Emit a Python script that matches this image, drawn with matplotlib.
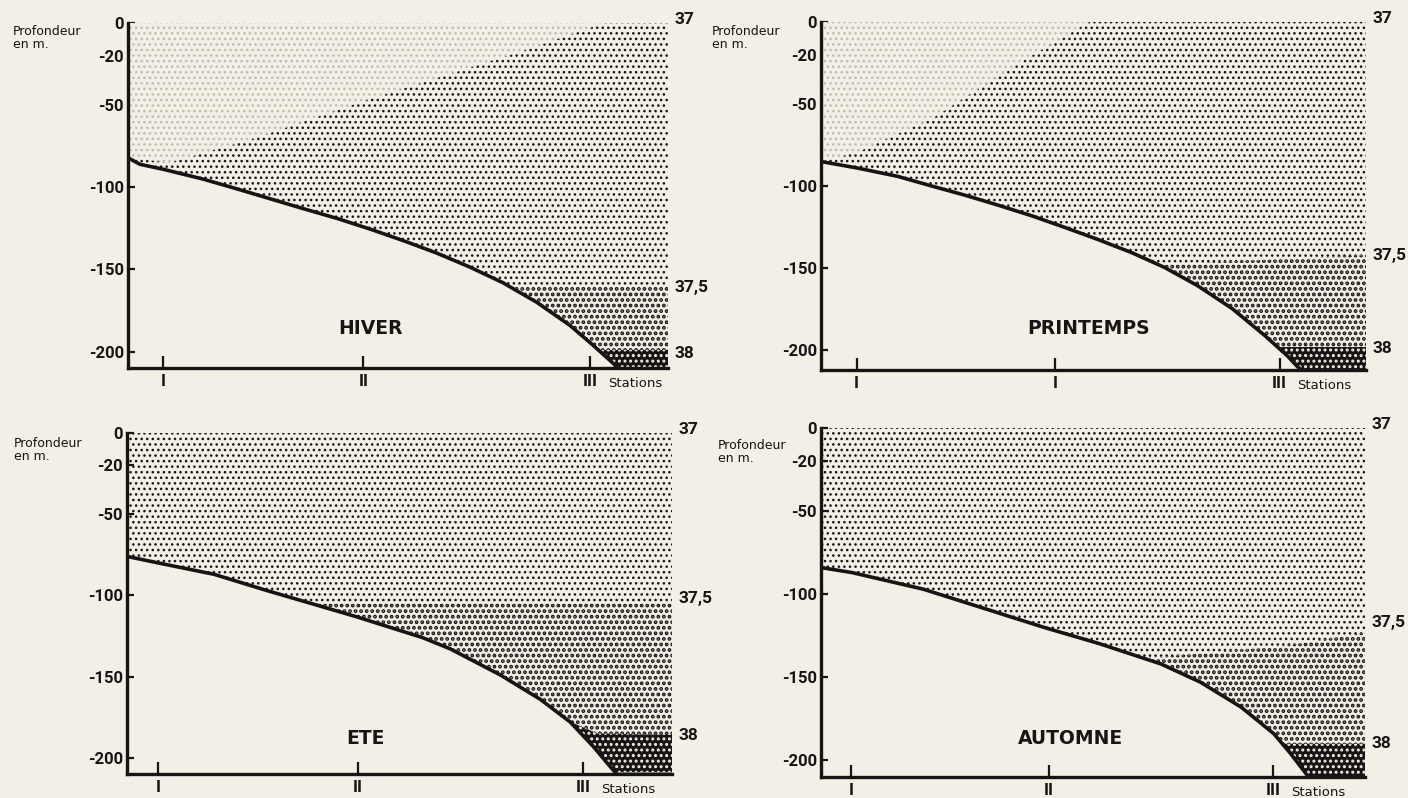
import numpy as np
import matplotlib
matplotlib.use('Agg')
import matplotlib.pyplot as plt
import matplotlib.transforms as mtransforms

# salinity sections along stations I-II-III, four seasons
station_x = [0, 20, 42.6]
depth_ticks = [0, -20, -50, -100, -150, -200]
depth_labels = ['0', '-20', '-50', '-100', '-150', '-200']

seasons = ['HIVER', 'PRINTEMPS', 'ETE', 'AUTOMNE']
station_labels = [['I', 'II', 'III'], ['I', 'I', 'III'], ['I', 'II', 'III'], ['I', 'II', 'III']]

# sea floor profile (distance, depth in m)
hiver_floor_x = [-3.5, -2.3, 0, 4.0, 7.4, 10.7, 14.0, 17.4, 20.7, 24.0, 27.3, 30.6, 33.9, 37.3, 40.6, 42.9, 44.9, 45.4]
hiver_floor_d = [-82, -86, -89, -95, -101, -107, -113, -119, -125.5, -132.5, -140, -148.5, -158, -170, -184, -196, -207, -210]
printemps_floor_x = [-3.6, 0.1, 4.1, 7.6, 10.9, 14.2, 17.6, 20.9, 24.3, 27.7, 31.0, 34.3, 37.8, 41.1, 43.4, 44.4, 44.8]
printemps_floor_d = [-85, -89, -94, -100, -105.5, -111.5, -118, -125, -132.5, -140.5, -149.5, -160.5, -174.5, -191, -203.5, -210, -212]
ete_floor_x = [-3.1, 0, 5.6, 10.9, 19.8, 26.5, 29.3, 34.3, 38.3, 41.3, 43.6, 45.8]
ete_floor_d = [-76, -80, -87, -97, -113, -126, -133, -149, -164, -178, -193, -209]
automne_floor_x = [-3.0, 0.1, 7.3, 19.5, 25.2, 31.3, 35.3, 39.4, 42.7, 44.4, 46.2]
automne_floor_d = [-84, -87, -97, -120, -130, -142, -153, -168, -184, -196, -210]

# isohaline 37 (limit of the fresher water, top-left)
hiver_s37_x = [-3.5, 0.7, 8.7, 20.3, 36.4, 44.0]
hiver_s37_d = [-82, -85, -71, -47, -16, 0]
printemps_s37_x = [-3.6, 0.2, 7.8, 15.8, 23.4]
printemps_s37_d = [-85, -79, -58, -27, 0]

# isohaline 37,5
hiver_s375_x = [34.5, 51.5]
hiver_s375_d = [-160, -160]
printemps_s375_x = [30, 51.5]
printemps_s375_d = [-148, -142]
ete_s375_x = [14, 51.5]
ete_s375_d = [-105, -105]
automne_s375_x = [31, 44, 52.1]
automne_s375_d = [-138, -131, -123]

# isohaline 38
hiver_s38_x = [43.5, 51.5]
hiver_s38_d = [-199, -199]
printemps_s38_x = [42.5, 51.5]
printemps_s38_d = [-198, -198]
ete_s38_x = [41, 44, 51.5]
ete_s38_d = [-177, -185, -186]
automne_s38_x = [43.7, 52.1]
automne_s38_d = [-190, -190]

# label depths on the right side
label375_d = [-161, -142, -102, -117]
label38_d = [-201, -199, -186, -190]

W, H = 1408, 798
BG = '#f3efe6'
INK = '#161514'
LIGHT = '#c2bbae'
NUM_FONT = ['Roboto', 'DejaVu Sans']

fig = plt.figure(figsize=(W / 100, H / 100), dpi=100, facecolor=BG)


def px_rect(left, right, top, bottom):
    return [left / W, 1 - bottom / H, (right - left) / W, (bottom - top) / H]


panels = [
    dict(rect=px_rect(128, 668, 23, 368), xlim=(-3.49, 50.4), ylim=(-210, 0),
         floor=(hiver_floor_x, hiver_floor_d), s37=(hiver_s37_x, hiver_s37_d),
         s375=(hiver_s375_x, hiver_s375_d), s38=(hiver_s38_x, hiver_s38_d),
         title_xy=(20.7, -186), prof=(13, 38)),
    dict(rect=px_rect(821, 1366, 22, 370), xlim=(-3.6, 51.3), ylim=(-212, 0),
         floor=(printemps_floor_x, printemps_floor_d), s37=(printemps_s37_x, printemps_s37_d),
         s375=(printemps_s375_x, printemps_s375_d), s38=(printemps_s38_x, printemps_s38_d),
         title_xy=(23.4, -187), prof=(712, 38)),
    dict(rect=px_rect(127, 672, 433, 774), xlim=(-3.11, 51.5), ylim=(-210, 0),
         floor=(ete_floor_x, ete_floor_d), s37=None,
         s375=(ete_s375_x, ete_s375_d), s38=(ete_s38_x, ete_s38_d),
         title_xy=(20.8, -188), prof=(14, 450)),
    dict(rect=px_rect(821, 1365, 428, 777), xlim=(-3.04, 51.9), ylim=(-210, 0),
         floor=(automne_floor_x, automne_floor_d), s37=None,
         s375=(automne_s375_x, automne_s375_d), s38=(automne_s38_x, automne_s38_d),
         title_xy=(22.2, -187), prof=(718, 452)),
]

for i, p in enumerate(panels):
    ax = fig.add_axes(p['rect'])
    ax.set_facecolor('none')
    ax.set_xlim(*p['xlim'])
    ax.set_ylim(*p['ylim'])
    xs = np.linspace(p['xlim'][0], p['xlim'][1], 800)
    fx, fd = p['floor']
    floor = np.maximum(np.interp(xs, fx, fd), p['ylim'][0])

    # 37 - 37,5 water
    with plt.rc_context({'hatch.linewidth': 1.05}):
        ax.fill_between(xs, floor, 0, facecolor=BG, edgecolor=INK, hatch='...', lw=0, zorder=1)
        # < 37 water
        if p['s37'] is not None:
            bx, bd = np.array(p['s37'][0]), np.array(p['s37'][1])
            b = np.interp(xs, bx, bd)
            ax.fill_between(xs, b, 0, where=xs <= bx.max(), interpolate=True,
                            facecolor=BG, edgecolor=LIGHT, hatch='...', lw=0, zorder=2)
    # 37,5 - 38 water
    with plt.rc_context({'hatch.linewidth': 1.9}):
        s375 = np.interp(xs, *p['s375'])
        ax.fill_between(xs, floor, s375, where=floor < s375, interpolate=True,
                        facecolor=BG, edgecolor=INK, hatch='...', lw=0, zorder=3)
    # > 38 water
    with plt.rc_context({'hatch.linewidth': 1.4}):
        s38 = np.interp(xs, *p['s38'])
        ax.fill_between(xs, floor, s38, where=floor < s38, interpolate=True,
                        facecolor=INK, edgecolor=BG, hatch='...', lw=0, zorder=4)
    ax.plot(fx, fd, color=INK, lw=2.6, zorder=5, solid_joinstyle='round')

    for side in ['top', 'right']:
        ax.spines[side].set_visible(False)
    for side in ['left', 'bottom']:
        ax.spines[side].set_linewidth(2.4)
        ax.spines[side].set_color(INK)
        ax.spines[side].set_zorder(6)

    ax.set_yticks(depth_ticks)
    ax.set_yticklabels(depth_labels, family=NUM_FONT, fontsize=12, fontweight='bold', color=INK)
    ax.tick_params(axis='y', direction='in', length=5, width=1.6, pad=3, colors=INK)
    ax.set_xticks(station_x)
    ax.set_xticklabels(station_labels[i], family=NUM_FONT, fontsize=12.5, fontweight='bold', color=INK)
    ax.tick_params(axis='x', direction='in', length=9, width=1.6, pad=4, colors=INK)

    trans = mtransforms.blended_transform_factory(ax.transAxes, ax.transData)
    right_style = dict(transform=trans, ha='left', va='center', family=NUM_FONT,
                       fontsize=12.5, fontweight='bold', color=INK, clip_on=False)
    ax.text(1.012, 2, '37', **right_style)
    ax.text(1.012, label375_d[i], '37,5', **right_style)
    ax.text(1.012, label38_d[i], '38', **right_style)

    ax.annotate('Stations', xy=(station_x[2] + 1.8, 0), xycoords=('data', 'axes fraction'),
                xytext=(0, -11), textcoords='offset points', ha='left', va='center',
                fontsize=9.5, color=INK)

    ax.text(p['title_xy'][0], p['title_xy'][1], seasons[i], ha='center', va='center',
            fontsize=13.5, fontweight='bold', color=INK)

    fig.text(p['prof'][0] / W, 1 - p['prof'][1] / H, 'Profondeur\nen m.', ha='left', va='center',
             fontsize=9, color=INK, linespacing=0.95)

fig.savefig('out.png', dpi=100, facecolor=BG)
